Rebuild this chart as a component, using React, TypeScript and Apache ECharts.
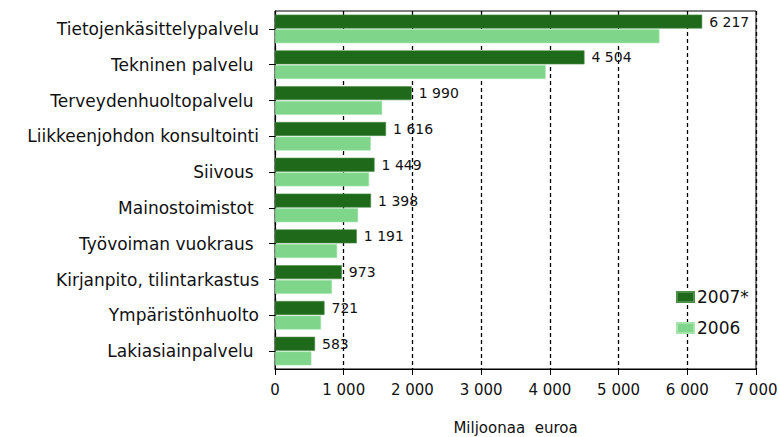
import React, { useEffect, useRef } from "react";
import * as echarts from "echarts";

const categories = [
  "Tietojenkäsittelypalvelu",
  "Tekninen palvelu ",
  "Terveydenhuoltopalvelu ",
  "Liikkeenjohdon konsultointi",
  "Siivous ",
  "Mainostoimistot ",
  "Työvoiman vuokraus ",
  "Kirjanpito, tilintarkastus",
  "Ympäristönhuolto",
  "Lakiasiainpalvelu ",
];
const values2007 = [6217, 4504, 1990, 1616, 1449, 1398, 1191, 973, 721, 583];
const values2006 = [5595, 3940, 1560, 1395, 1370, 1210, 905, 830, 670, 530];
const seriesNames = ["2007*", "2006"];
const axisTitle = "Miljoonaa  euroa";

const fmt = (v: number) => String(v).replace(/\B(?=(\d{3})+(?!\d))/g, " ");

export default function App() {
  const ref = useRef<HTMLDivElement>(null);
  useEffect(() => {
    if (!ref.current) return;
    const chart = echarts.init(ref.current, null, { renderer: "svg" });
    const font = "'DejaVu Sans', Verdana, sans-serif";
    chart.setOption({
      animation: false,
      backgroundColor: "#ffffff",
      textStyle: { fontFamily: font },
      grid: {
        left: 275,
        right: 23,
        top: 11,
        bottom: 68,
        outerBoundsMode: "none",
        containLabel: false,
        show: true,
        borderColor: "#000",
        borderWidth: 1,
        backgroundColor: "transparent",
      },
      legend: {
        orient: "vertical",
        left: 671,
        top: 282,
        itemWidth: 17,
        itemHeight: 10,
        itemGap: 11,
        icon: "rect",
        textStyle: { fontFamily: font, fontSize: 17, color: "#111", padding: [0, 0, 0, -2], lineHeight: 20 },
        data: seriesNames,
      },
      xAxis: {
        type: "value",
        min: 0,
        max: 7000,
        interval: 1000,
        name: axisTitle,
        nameLocation: "middle",
        nameGap: 51,
        nameTextStyle: { fontFamily: font, fontSize: 15, color: "#111" },
        axisLine: { show: true, lineStyle: { color: "#000", width: 1 } },
        axisTick: { show: true, length: 6, lineStyle: { color: "#000" } },
        axisLabel: {
          margin: 13,
          fontFamily: font,
          fontSize: 15,
          color: "#111",
          formatter: (v: number) => fmt(v),
        },
        splitLine: { show: true, lineStyle: { color: "#000", type: [4, 3], width: 1.3 } },
      },
      yAxis: {
        type: "category",
        inverse: true,
        data: categories,
        axisLine: { show: true, lineStyle: { color: "#000", width: 1 } },
        axisTick: { show: true, alignWithLabel: true, length: 6, lineStyle: { color: "#000" } },
        axisLabel: { margin: 16, fontFamily: font, fontSize: 17, color: "#111" },
        splitLine: { show: false },
      },
      series: [
        {
          name: seriesNames[0],
          type: "bar",
          data: values2007,
          barCategoryGap: "20%",
          barGap: "5%",
          itemStyle: { color: "#1e6a1a", borderColor: "#4f8f4a", borderWidth: 0.6 },
          label: {
            show: true,
            position: "right",
            distance: 7,
            fontFamily: font,
            fontSize: 14,
            color: "#111",
            formatter: (p: any) => fmt(p.value),
          },
          z: 3,
        },
        {
          name: seriesNames[1],
          type: "bar",
          data: values2006,
          barCategoryGap: "20%",
          barGap: "5%",
          itemStyle: { color: "#7fd68a", borderColor: "#a6e6ae", borderWidth: 0.6 },
          z: 3,
        },
      ],
    });
    return () => chart.dispose();
  }, []);
  return (
    <div
      ref={ref}
      style={{ position: "fixed", left: 0, top: 0, width: 779, height: 437, background: "#fff" }}
    />
  );
}
